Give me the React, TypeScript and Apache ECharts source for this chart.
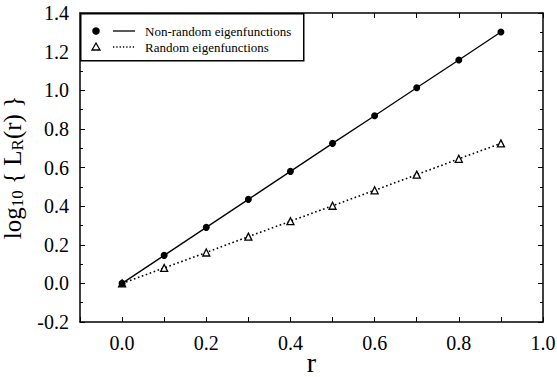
import React, { useEffect, useRef } from "react";
import * as echarts from "echarts";

const rValues = [0.0, 0.1, 0.2, 0.3, 0.4, 0.5, 0.6, 0.7, 0.8, 0.9];
const nonRandom = [0.0, 0.145, 0.29, 0.435, 0.58, 0.725, 0.868, 1.013, 1.157, 1.302];
const randomVals = [0.0, 0.08, 0.16, 0.242, 0.322, 0.402, 0.482, 0.563, 0.645, 0.725];
const legendNames = ["Non-random eigenfunctions", "Random eigenfunctions"];

const FONT = "Liberation Serif";

export default function App() {
  const ref = useRef<HTMLDivElement>(null);
  useEffect(() => {
    document.body.style.margin = "0";
    if (!ref.current) return;
    const chart = echarts.init(ref.current, undefined, { renderer: "svg" });
    const axisLine = { show: true, onZero: false, lineStyle: { color: "#000", width: 1.5 } };
    const tick = { show: true, inside: true, length: 5, lineStyle: { color: "#000", width: 1 } };
    const minor = { show: true, length: 3, splitNumber: 2, lineStyle: { color: "#000", width: 1 } };
    const labelStyle = { color: "#000", fontFamily: FONT, fontSize: 20 };
    chart.setOption({
      animation: false,
      backgroundColor: "#fff",
      grid: { left: 80, right: 14, top: 13, bottom: 55, containLabel: false, outerBoundsMode: "none" },
      xAxis: [
        {
          type: "value",
          min: -0.1,
          max: 1.0,
          interval: 0.1,
          axisLine,
          axisTick: tick,
          splitLine: { show: false },
          axisLabel: {
            ...labelStyle,
            margin: 11,
            formatter: (v: number) => {
              const k = Math.round(v * 10);
              return k >= 0 && k % 2 === 0 ? v.toFixed(1) : "";
            },
          },
          name: "r",
          nameLocation: "middle",
          nameMoveOverlap: false,
          nameGap: 26,
          nameTextStyle: { color: "#000", fontFamily: FONT, fontSize: 28, lineHeight: 28 },
        },
        {
          type: "value",
          position: "top",
          min: -0.1,
          max: 1.0,
          interval: 0.1,
          axisLine,
          axisTick: tick,
          axisLabel: { show: false },
          splitLine: { show: false },
        },
      ],
      yAxis: [
        {
          type: "value",
          min: -0.2,
          max: 1.4,
          interval: 0.2,
          axisLine,
          axisTick: tick,
          minorTick: { ...minor },
          splitLine: { show: false },
          axisLabel: { ...labelStyle, margin: 11, formatter: (v: number) => v.toFixed(1) },
          name: "log{s|10} { L{s|R}(r) }",
          nameLocation: "middle",
          nameRotate: 90,
          nameGap: 46,
          nameTextStyle: {
            color: "#000",
            fontFamily: FONT,
            fontSize: 25,
            rich: {
              s: { fontFamily: FONT, fontSize: 17, color: "#000", verticalAlign: "bottom", padding: [10, 0, 0, 0] },
            },
          },
        },
        {
          type: "value",
          position: "right",
          min: -0.2,
          max: 1.4,
          interval: 0.2,
          axisLine,
          axisTick: tick,
          minorTick: { ...minor },
          axisLabel: { show: false },
          splitLine: { show: false },
        },
      ],
      series: [
        {
          name: legendNames[0],
          type: "line",
          data: rValues.map((r, i) => [r, nonRandom[i]]),
          symbol: "circle",
          symbolSize: 7,
          itemStyle: { color: "#000" },
          lineStyle: { color: "#000", width: 1.3 },
          z: 3,
        },
        {
          name: legendNames[1],
          type: "line",
          data: rValues.map((r, i) => [r, randomVals[i]]),
          symbol: "triangle",
          symbolSize: 7,
          itemStyle: { color: "#fff", borderColor: "#000", borderWidth: 1.3 },
          lineStyle: { color: "#000", width: 1.6, type: [1.6, 2.6] },
          z: 2,
        },
      ],
      graphic: [
        { type: "rect", z: 100, left: 80, top: 13, shape: { width: 223, height: 47 }, style: { fill: "#fff", stroke: "#000", lineWidth: 1.5 } },
        { type: "circle", z: 101, x: 96, y: 31, shape: { cx: 0, cy: 0, r: 3.8 }, style: { fill: "#000" } },
        { type: "polygon", z: 101, x: 96, y: 47, shape: { points: [[0, -4], [4, 3], [-4, 3]] }, style: { fill: "#fff", stroke: "#000", lineWidth: 1.3 } },
        { type: "line", z: 101, x: 113, y: 31, shape: { x1: 0, y1: 0, x2: 22, y2: 0 }, style: { stroke: "#000", lineWidth: 1.3 } },
        { type: "line", z: 101, x: 113, y: 47, shape: { x1: 0, y1: 0, x2: 22, y2: 0 }, style: { stroke: "#000", lineWidth: 1.3, lineDash: [1.3, 2] } },
        { type: "text", z: 101, x: 145, y: 31, style: { text: legendNames[0], fontFamily: FONT, fontSize: 13, fill: "#000", verticalAlign: "middle" } },
        { type: "text", z: 101, x: 145, y: 47, style: { text: legendNames[1], fontFamily: FONT, fontSize: 13, fill: "#000", verticalAlign: "middle" } },
      ],
    });
    return () => chart.dispose();
  }, []);
  return <div ref={ref} style={{ width: 557, height: 377 }} />;
}
